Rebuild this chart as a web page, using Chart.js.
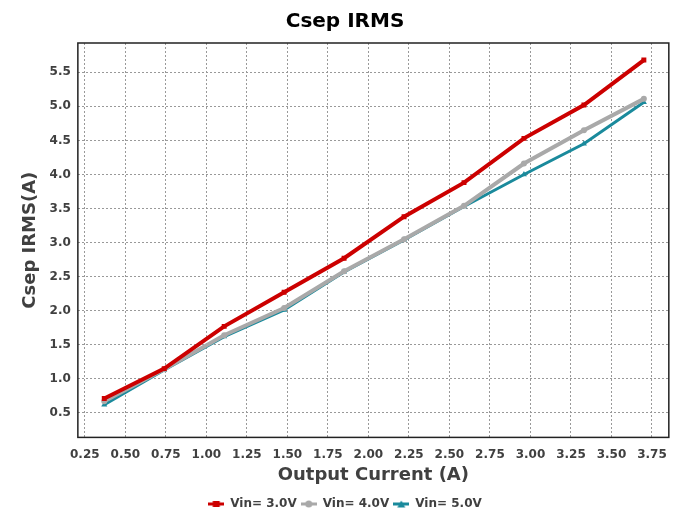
<!DOCTYPE html>
<html>
<head>
<meta charset="utf-8">
<script src="https://cdn.jsdelivr.net/npm/chart.js@4/dist/chart.umd.min.js"></script>
<style>
  html, body { margin: 0; padding: 0; background: #fff; }
  #wrap { width: 678px; height: 517px; }
</style>
</head>
<body>
<div id="wrap"><canvas id="irmsChart"></canvas></div>
<script>
// Output current (A)
const current = [0.37, 0.74, 1.11, 1.48, 1.85, 2.22, 2.59, 2.96, 3.33, 3.70];
// Csep IRMS (A) per input voltage
const vin3 = [0.71, 1.15, 1.77, 2.27, 2.77, 3.38, 3.88, 4.53, 5.02, 5.68];
const vin4 = [0.67, 1.14, 1.64, 2.04, 2.58, 3.05, 3.54, 4.16, 4.65, 5.11];
const vin5 = [0.62, 1.13, 1.62, 2.01, 2.57, 3.04, 3.53, 4.00, 4.45, 5.06];
// tick labels
const xTicks = [0.25, 0.5, 0.75, 1.0, 1.25, 1.5, 1.75, 2.0, 2.25, 2.5, 2.75, 3.0, 3.25, 3.5, 3.75];
const yTicks = [0.5, 1.0, 1.5, 2.0, 2.5, 3.0, 3.5, 4.0, 4.5, 5.0, 5.5];

const textColor = '#404040';
const fontFamily = '"DejaVu Sans", Arial, sans-serif';

function toPoints(ys) {
    return current.map((x, i) => ({ x: x, y: ys[i] }));
}

// small legend sample: thick line with the marker in the middle
function legendIcon(color, style) {
    const c = document.createElement('canvas');
    c.width = 16; c.height = 8;
    const g = c.getContext('2d');
    g.strokeStyle = color;
    g.fillStyle = color;
    g.lineWidth = 3;
    g.beginPath(); g.moveTo(0, 4); g.lineTo(16, 4); g.stroke();
    g.beginPath();
    if (style === 'rect') {
        g.rect(4.5, 1, 7, 6);
    } else if (style === 'circle') {
        g.arc(8, 4, 3.5, 0, Math.PI * 2);
    } else {
        g.moveTo(8, 0.5); g.lineTo(12, 7.5); g.lineTo(4, 7.5); g.closePath();
    }
    g.fill();
    return c;
}

// box round the whole plot area
const frame = {
    id: 'frame',
    afterDraw(chart) {
        const a = chart.chartArea;
        const ctx = chart.ctx;
        ctx.save();
        ctx.strokeStyle = '#222';
        ctx.lineWidth = 1.5;
        ctx.strokeRect(a.left, a.top, a.right - a.left, a.bottom - a.top);
        ctx.restore();
    }
};

const series = [
    { label: 'Vin= 3.0V', data: vin3, color: '#CC0000', style: 'rect', width: 4, r: 3.5 },
    { label: 'Vin= 4.0V', data: vin4, color: '#A9A9A9', style: 'circle', width: 4, r: 3 },
    { label: 'Vin= 5.0V', data: vin5, color: '#1A8A9C', style: 'triangle', width: 3, r: 3.5 }
];

new Chart(document.getElementById('irmsChart'), {
    type: 'line',
    data: {
        datasets: series.map(s => ({
            label: s.label,
            data: toPoints(s.data),
            borderColor: s.color,
            backgroundColor: s.color,
            borderWidth: s.width,
            pointStyle: s.style,
            pointRadius: s.r,
            pointBorderWidth: 0,
            tension: 0
        }))
    },
    plugins: [frame],
    options: {
        responsive: true,
        maintainAspectRatio: false,
        animation: false,
        layout: { padding: { left: 20, right: 8, top: 0, bottom: -3 } },
        plugins: {
            title: {
                display: true,
                text: 'Csep IRMS',
                color: '#000',
                font: { family: fontFamily, size: 20, weight: 'bold' },
                padding: { top: 10, bottom: 9 }
            },
            legend: {
                position: 'bottom',
                labels: {
                    color: textColor,
                    font: { family: fontFamily, size: 12, weight: 'bold' },
                    usePointStyle: true,
                    pointStyleWidth: 16,
                    padding: 4,
                    generateLabels(chart) {
                        return series.map((s, i) => ({
                            text: s.label,
                            fontColor: textColor,
                            pointStyle: legendIcon(s.color, s.style),
                            datasetIndex: i,
                            lineWidth: 0,
                            hidden: false
                        }));
                    }
                }
            },
            tooltip: { enabled: false }
        },
        scales: {
            x: {
                type: 'linear',
                min: 0.207,
                max: 3.854,
                afterBuildTicks(axis) { axis.ticks = xTicks.map(v => ({ value: v })); },
                grid: { color: '#999', drawTicks: false, lineWidth: 1 },
                border: { display: false, dash: [2, 2] },
                ticks: {
                    color: textColor,
                    padding: 11,
                    maxRotation: 0,
                    autoSkip: false,
                    font: { family: fontFamily, size: 12, weight: 'bold', lineHeight: 1 },
                    callback: v => Number(v).toFixed(2)
                },
                title: {
                    display: true,
                    text: 'Output Current (A)',
                    color: textColor,
                    font: { family: fontFamily, size: 18, weight: 'bold' },
                    padding: { top: -7, bottom: 8 }
                }
            },
            y: {
                type: 'linear',
                min: 0.14,
                max: 5.93,
                afterBuildTicks(axis) { axis.ticks = yTicks.map(v => ({ value: v })); },
                grid: { color: '#999', drawTicks: false, lineWidth: 1 },
                border: { display: false, dash: [2, 2] },
                ticks: {
                    color: textColor,
                    padding: 7,
                    autoSkip: false,
                    font: { family: fontFamily, size: 12, weight: 'bold' },
                    callback: v => Number(v).toFixed(1)
                },
                title: {
                    display: true,
                    text: 'Csep IRMS(A)',
                    color: textColor,
                    font: { family: fontFamily, size: 18, weight: 'bold' },
                    padding: { top: 0, bottom: 1 }
                }
            }
        }
    }
});
</script>
</body>
</html>
